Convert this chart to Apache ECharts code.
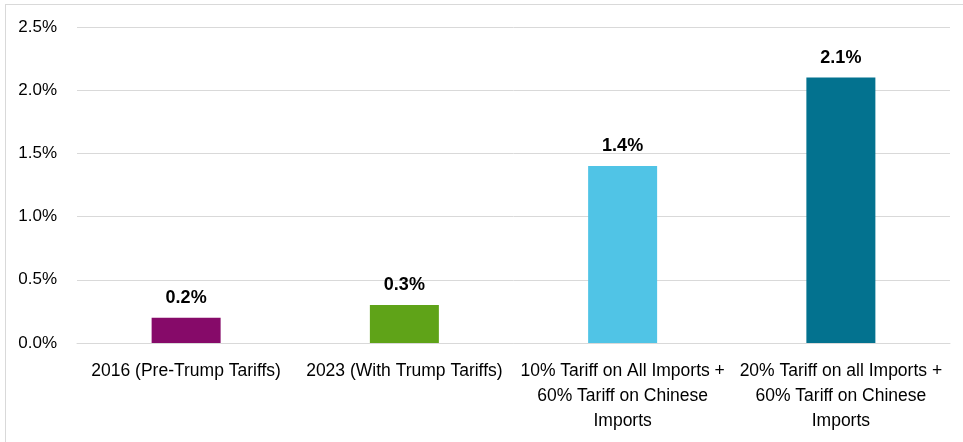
<!DOCTYPE html>
<html><head><meta charset="utf-8">
<script src="https://cdn.jsdelivr.net/npm/echarts@6/dist/echarts.min.js"></script>
<style>html,body{margin:0;padding:0;background:#fff}#c{width:963px;height:442px;position:relative}
#b{position:absolute;left:5px;top:4px;width:970px;height:460px;border:1px solid #d9d9d9;box-sizing:border-box;pointer-events:none}</style>
</head><body><div id="c"></div><div id="b"></div>
<script>
const categories = ["2016 (Pre-Trump Tariffs)", "2023 (With Trump Tariffs)", "10% Tariff on All Imports +\n60% Tariff on Chinese\nImports", "20% Tariff on all Imports +\n60% Tariff on Chinese\nImports"];
const values = [0.2, 0.3, 1.4, 2.1];
const colors = ["#860A69", "#5FA318", "#50C4E6", "#03728F"];
const yTicks = [0, 0.5, 1.0, 1.5, 2.0, 2.5];
const FONT = '"Liberation Sans", Arial';
const chart = echarts.init(document.getElementById('c'), null, {renderer:'canvas'});
chart.setOption({
  animation:false,
  grid:{left:77, right:13, top:27, bottom:99, containLabel:false},
  xAxis:{type:'category', data:categories,
    axisLine:{show:true, lineStyle:{color:'#d9d9d9'}}, axisTick:{show:false},
    axisLabel:{color:'#000', fontFamily:FONT, fontSize:17.5, lineHeight:25, margin:16, interval:0}},
  yAxis:{type:'value', min:0, max:2.5, interval:0.5,
    axisLine:{show:false}, axisTick:{show:false},
    splitLine:{lineStyle:{color:'#d9d9d9'}},
    axisLabel:{color:'#000', fontFamily:FONT, fontSize:17, margin:20,
      formatter:v=>v.toFixed(1)+'%'}},
  series:[{type:'bar', barWidth:69,
    data:values.map((v,i)=>({value:v, itemStyle:{color:colors[i]}})),
    label:{show:true, position:'top', distance:11, color:'#000', fontWeight:'bold',
      fontFamily:FONT, fontSize:18, formatter:p=>p.value.toFixed(1)+'%'}}]
});
</script></body></html>
